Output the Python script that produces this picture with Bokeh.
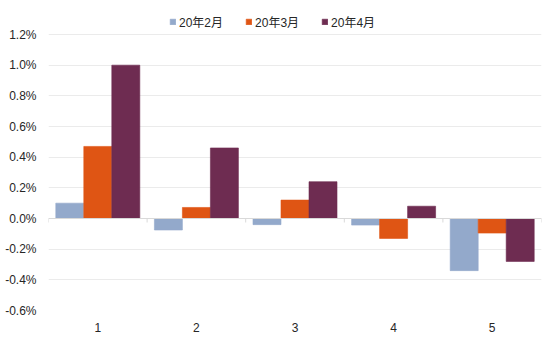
from bokeh.plotting import figure
from bokeh.models import (ColumnDataSource, FactorRange, Range1d, NumeralTickFormatter,
                          Span, Legend, LegendItem, FixedTicker)
from bokeh.transform import dodge
from bokeh.embed import file_html
from bokeh.resources import INLINE

categories = ["1", "2", "3", "4", "5"]
series_names = ["20年2月", "20年3月", "20年4月"]
feb = [0.0010, -0.00075, -0.0004, -0.00043, -0.0034]
mar = [0.0047, 0.00072, 0.0012, -0.0013, -0.00095]
apr = [0.0100, 0.0046, 0.0024, 0.0008, -0.0028]
y_ticks = [-0.006, -0.004, -0.002, 0.0, 0.002, 0.004, 0.006, 0.008, 0.010, 0.012]
colors = ["#93A9CB", "#DF5514", "#6E2C51"]

FONT = "Liberation Sans, Arial, Noto Sans CJK SC"

src = ColumnDataSource(dict(cat=categories, feb=feb, mar=mar, apr=apr))

# frame spans from y=4 to y=310; ticks -0.6%..1.2% occupy 276px (y=34..310)
tick_span = y_ticks[-1] - y_ticks[0]
y_top = y_ticks[-1] + tick_span * 30 / 276

p = figure(width=550, height=338, x_range=FactorRange(*categories, range_padding=0),
           y_range=Range1d(y_ticks[0], y_top),
           output_backend="svg", toolbar_location=None,
           min_border_left=48, min_border_right=9, min_border_top=4, min_border_bottom=28)
p.outline_line_color = None
p.background_fill_color = "white"
p.border_fill_color = "white"

w = 0.284
renderers = []
for k, (key, c) in enumerate(zip(["feb", "mar", "apr"], colors)):
    r = p.vbar(x=dodge("cat", (k - 1) * w, range=p.x_range), top=key, bottom=0, width=w,
               source=src, fill_color=c, line_color=c, line_alpha=0.6, line_width=1)
    renderers.append(r)

# zero line and category boundary ticks
p.add_layout(Span(location=0, dimension="width", line_color="#D9D9D9", line_width=1))
n = len(categories)
tick_len = tick_span / 276 * 4
p.segment(x0=list(range(n + 1)), x1=list(range(n + 1)), y0=[0] * (n + 1),
          y1=[-tick_len] * (n + 1), line_color="#D9D9D9", line_width=1)

p.xgrid.grid_line_color = None
p.ygrid.grid_line_color = "#EBEBEB"
p.ygrid.grid_line_width = 1
p.yaxis.ticker = FixedTicker(ticks=y_ticks)
p.yaxis.formatter = NumeralTickFormatter(format="0.0%")

for ax in (p.xaxis[0], p.yaxis[0]):
    ax.axis_line_color = None
    ax.major_tick_line_color = None
    ax.minor_tick_line_color = None
    ax.major_label_text_font = FONT
    ax.major_label_text_font_size = "12px"
    ax.major_label_text_color = "#262626"
p.yaxis.major_label_standoff = 6
p.xaxis.major_label_standoff = 6

items = [LegendItem(label=nm, renderers=[r]) for nm, r in zip(series_names, renderers)]
legend = Legend(items=items, orientation="horizontal", location=(121, 280),
                glyph_width=7, glyph_height=7, label_standoff=3, spacing=22,
                label_text_font=FONT, label_text_font_size="12px", label_text_color="#262626",
                background_fill_alpha=0, border_line_color=None, padding=0,
                margin=0, label_height=12)
p.add_layout(legend, "center")

open("out.html", "w").write(file_html(p, INLINE))
